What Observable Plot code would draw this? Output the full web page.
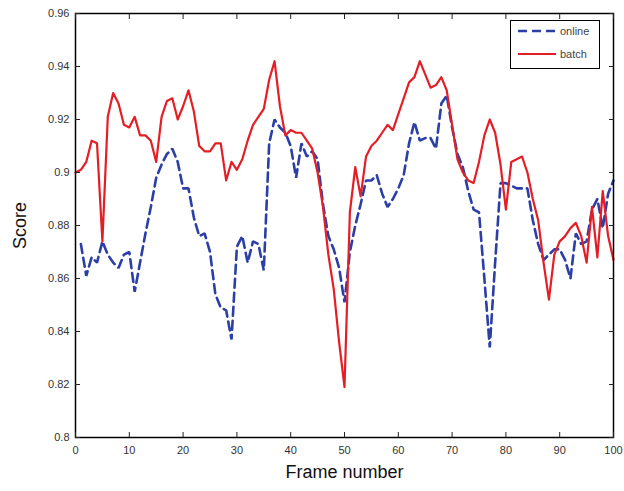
<!DOCTYPE html>
<html>
<head>
<meta charset="utf-8">
<script src="https://cdn.jsdelivr.net/npm/d3@7"></script>
<script src="https://cdn.jsdelivr.net/npm/@observablehq/plot@0.6"></script>
<style>
  html, body { margin: 0; padding: 0; background: #fff; }
  #wrap { position: relative; width: 624px; height: 491px; font-family: "Liberation Sans", Arial, sans-serif; }
  #legend { position: absolute; left: 510px; top: 20px; width: 90px; height: 49px; border: 1.5px solid #000; background: #fff; box-sizing: border-box; }
  #legend .row { position: absolute; left: 6px; height: 14px; display: flex; align-items: center; font-size: 11px; color: #444; }
  #legend svg { margin-right: 3px; }
</style>
</head>
<body>
<div id="wrap"></div>
<script>
const batchFrames = d3.range(0, 101);
const batchValues = [
  0.900, 0.901, 0.904, 0.912, 0.911, 0.874, 0.921, 0.930, 0.926, 0.918,
  0.917, 0.921, 0.914, 0.914, 0.912, 0.904, 0.921, 0.927, 0.928, 0.920,
  0.925, 0.931, 0.923, 0.910, 0.908, 0.908, 0.911, 0.911, 0.897, 0.904,
  0.901, 0.905, 0.912, 0.918, 0.921, 0.924, 0.935, 0.942, 0.925, 0.914,
  0.916, 0.915, 0.915, 0.912, 0.909, 0.900, 0.887, 0.869, 0.856, 0.836,
  0.819, 0.885, 0.902, 0.891, 0.906, 0.910, 0.912, 0.915, 0.918, 0.916,
  0.922, 0.928, 0.934, 0.936, 0.942, 0.937, 0.932, 0.933, 0.936, 0.931,
  0.918, 0.905, 0.900, 0.897, 0.896, 0.904, 0.914, 0.920, 0.915, 0.903,
  0.886, 0.904, 0.905, 0.906, 0.900, 0.890, 0.882, 0.866, 0.852, 0.869,
  0.874, 0.876, 0.879, 0.881, 0.876, 0.866, 0.887, 0.868, 0.893, 0.876,
  0.867
];
const onlineFrames = d3.range(1, 101);
const onlineValues = [
  0.873, 0.861, 0.868, 0.866, 0.874, 0.869, 0.866, 0.864, 0.869,
  0.870, 0.855, 0.866, 0.877, 0.887, 0.898, 0.903, 0.907, 0.909, 0.904,
  0.894, 0.894, 0.883, 0.876, 0.877, 0.870, 0.854, 0.849, 0.848, 0.837,
  0.872, 0.876, 0.866, 0.874, 0.873, 0.863, 0.911, 0.920, 0.917, 0.915,
  0.910, 0.898, 0.911, 0.906, 0.908, 0.905, 0.888, 0.876, 0.871, 0.864,
  0.851, 0.870, 0.880, 0.888, 0.897, 0.897, 0.899, 0.892, 0.887, 0.890,
  0.894, 0.899, 0.911, 0.919, 0.912, 0.913, 0.913, 0.909, 0.926, 0.929,
  0.917, 0.907, 0.902, 0.893, 0.886, 0.885, 0.860, 0.834, 0.866, 0.896,
  0.896, 0.895, 0.894, 0.894, 0.894, 0.882, 0.873, 0.867, 0.869, 0.871,
  0.871, 0.867, 0.860, 0.877, 0.873, 0.874, 0.886, 0.890, 0.879, 0.892,
  0.897
];
const xTicks = [0, 10, 20, 30, 40, 50, 60, 70, 80, 90, 100];
const yTicks = [0.8, 0.82, 0.84, 0.86, 0.88, 0.9, 0.92, 0.94, 0.96];
const seriesNames = ["online", "batch"];
const seriesColors = ["#2b3fa6", "#e41e26"];

const batch = batchFrames.map((f, i) => ({frame: f, score: batchValues[i]}));
const online = onlineFrames.map((f, i) => ({frame: f, score: onlineValues[i]}));
const fmtY = d => String(+d.toFixed(2));
const blank = () => "";

const chart = Plot.plot({
  width: 624,
  height: 491,
  marginLeft: 75,
  marginRight: 11,
  marginTop: 13,
  marginBottom: 54,
  style: {fontFamily: "Liberation Sans, Arial, sans-serif", fontSize: "11px", color: "#333", background: "#fff"},
  x: {domain: [0, 100]},
  y: {domain: [0.8, 0.96]},
  marks: [
    Plot.line(online, {x: "frame", y: "score", stroke: seriesColors[0], strokeWidth: 2.6, strokeDasharray: "9,5", strokeLinejoin: "miter"}),
    Plot.line(batch, {x: "frame", y: "score", stroke: seriesColors[1], strokeWidth: 2.2}),
    Plot.frame({stroke: "#000", strokeWidth: 1.5}),
    Plot.axisX(xTicks, {anchor: "bottom", tickSize: -5, tickFormat: blank, stroke: "#222", label: null}),
    Plot.axisX(xTicks, {anchor: "top", tickSize: -5, tickFormat: blank, stroke: "#222", label: null}),
    Plot.axisY(yTicks, {anchor: "left", tickSize: -5, tickFormat: blank, stroke: "#222", label: null}),
    Plot.axisY(yTicks, {anchor: "right", tickSize: -5, tickFormat: blank, stroke: "#222", label: null}),
    Plot.axisX(xTicks, {anchor: "bottom", tickSize: 0, tickPadding: 9, fill: "#333", label: "Frame number", labelAnchor: "center", labelArrow: "none", labelOffset: 40}),
    Plot.axisY(yTicks, {anchor: "left", tickSize: 0, tickPadding: 6, tickFormat: fmtY, fill: "#333", label: "Score", labelAnchor: "center", labelArrow: "none", labelOffset: 62})
  ]
});
d3.select(chart).selectAll("[aria-label='x-axis label'] text, [aria-label='y-axis label'] text")
  .style("font-size", "18px").style("fill", "#111");

const wrap = document.getElementById("wrap");
wrap.appendChild(chart);

const legend = document.createElement("div");
legend.id = "legend";
seriesNames.forEach((name, i) => {
  const row = document.createElement("div");
  row.className = "row";
  row.style.top = (i === 0 ? 10 : 33) + "px";
  row.style.transform = "translateY(-50%)";
  row.innerHTML = `<svg width="40" height="6"><line x1="1" y1="3" x2="39" y2="3" stroke="${seriesColors[i]}" stroke-width="${i === 0 ? 2.6 : 2.2}" ${i === 0 ? 'stroke-dasharray="9,5"' : ""}/></svg><span>${name}</span>`;
  legend.appendChild(row);
});
wrap.appendChild(legend);
</script>
</body>
</html>
